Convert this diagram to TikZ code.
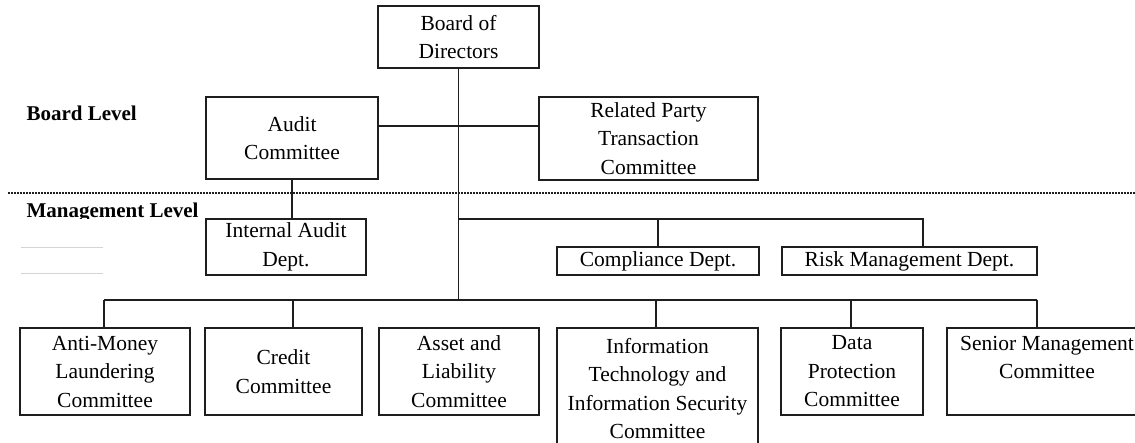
\documentclass[tikz,border=0pt]{standalone}
\usepackage{fontspec}
\setmainfont{Liberation Serif}
\usepackage{xcolor}

\begin{document}
\begin{tikzpicture}[x=1pt, y=-1pt,
        every node/.style={font=\fontsize{21.5}{28.5}\selectfont},
        unitbox/.style={draw=lineColor, line width=1.5pt, align=center, inner sep=0pt},
        link/.style={draw=lineColor, line width=1.5pt}]
        % Colours for lines and the faint rules
        \definecolor{lineColor}{RGB}{30,30,30}
        \definecolor{ruleColor}{RGB}{212,212,212}

        % Canvas of the picture
        \useasboundingbox (0,0) rectangle (1135,442);
        \clip (0,0) rectangle (1135,442);

        % Level labels
        \node[anchor=base west, font=\fontsize{21}{28}\selectfont\bfseries] (boardlbl) at (23,120) {Board Level};
        \begin{scope}
            \clip (0,196) rectangle (205,218);
            \node[anchor=base west, font=\fontsize{21}{28}\selectfont\bfseries] (mgmtlbl) at (23,217) {Management Level};
        \end{scope}
        \draw[ruleColor, line width=1pt] (21,247) -- (103,247);
        \draw[ruleColor, line width=1pt] (21,273) -- (103,273);

        % Divider between the two levels
        \draw[lineColor, line width=1.3pt, dash pattern=on 1.5pt off 1.5pt] (8,193) -- (1135,193);

        % Board level
        \node[unitbox, minimum width=161, minimum height=62] (bod) at (458.5,37) {Board of\\Directors};
        \node[unitbox, minimum width=172, minimum height=82] (audit) at (292,138) {Audit\\Committee};
        \node[unitbox, minimum width=219, minimum height=83] (rpt) at (648.5,138.5) {Related Party\\Transaction\\Committee};

        % Management level departments
        \node[unitbox, minimum width=160, minimum height=56] (iad) at (286,247) {Internal Audit\\Dept.};
        \node[unitbox, minimum width=202, minimum height=28] (comp) at (658,261) {Compliance Dept.};
        \node[unitbox, minimum width=255, minimum height=28] (risk) at (909.5,261) {Risk Management Dept.};

        % Management committees
        \node[unitbox, minimum width=170, minimum height=87] (aml) at (105,371.5) {Anti-Money\\Laundering\\Committee};
        \node[unitbox, minimum width=157, minimum height=87] (credit) at (283.5,371.5) {Credit\\Committee};
        \node[unitbox, minimum width=160, minimum height=87] (asset) at (459,371.5) {Asset and\\Liability\\Committee};
        \node[unitbox, minimum width=201, minimum height=121] (itsec) at (657.5,388.5) {Information\\Technology and\\Information Security\\Committee};
        \node[unitbox, minimum width=142, minimum height=87] (dp) at (852,371.5) {Data\\Protection\\Committee};
        \node[unitbox, minimum width=200, minimum height=87] (senior) at (1047,371.5) {Senior Management\\Committee\\\phantom{Committee}};

        % Bus lines
        \coordinate (boardbus) at (458,126);
        \coordinate (mgmtbus)  at (458,219);
        \coordinate (riskdrop) at (923,219);
        \coordinate (botbus)   at (458,300);

        % Main spine from the board down to the committees
        \draw[link] (bod.south) -- (bod.south |- botbus);
        % Board committees
        \draw[link] (audit.east |- boardbus) -- (rpt.west |- boardbus);
        \draw[link] (audit.south) -- (audit.south |- iad.north);
        % Departments
        \draw[link] (mgmtbus) -- (riskdrop) -- (riskdrop |- risk.north);
        \draw[link] (comp.north |- mgmtbus) -- (comp.north);
        % Committees
        \foreach \n/\x in {aml/104, credit/293, itsec/656, dp/851, senior/1037}{
            \coordinate (\n-drop) at (\x,300);
            \draw[link] (\n-drop) -- (\n-drop |- \n.north);
        }
        \draw[link] (aml-drop) -- (senior-drop);

\end{tikzpicture}
\end{document}
